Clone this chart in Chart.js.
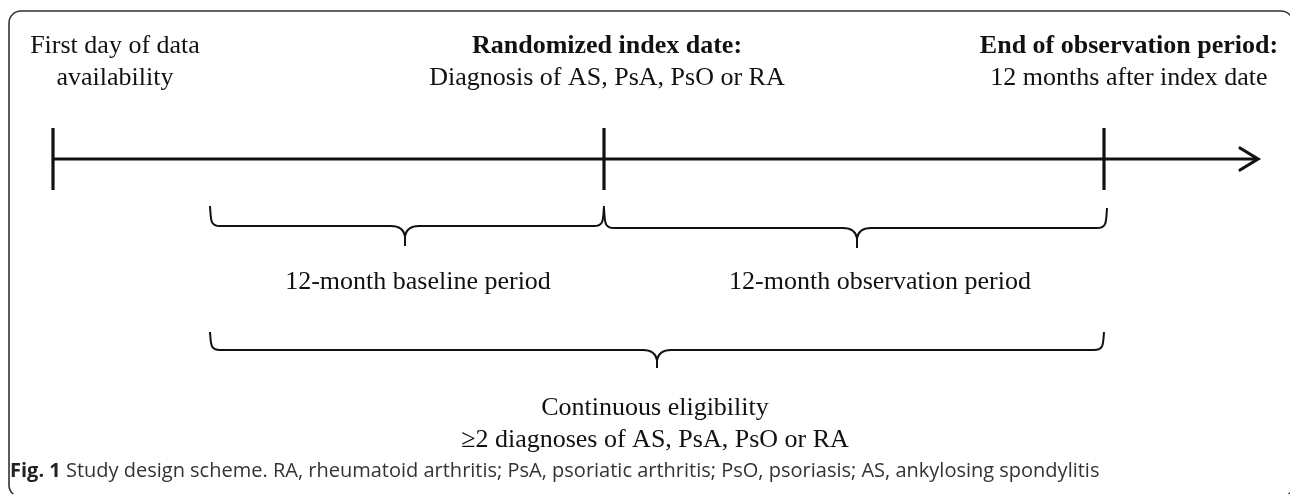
<!DOCTYPE html>
<html>
<head>
<meta charset="utf-8">
<script src="https://cdn.jsdelivr.net/npm/chart.js@4.4.1/dist/chart.umd.min.js"></script>
<style>
  html, body { margin: 0; padding: 0; background: #ffffff; }
  #wrap { width: 1290px; height: 494px; position: relative; }
</style>
</head>
<body>
<div id="wrap"><canvas id="c" width="1290" height="494"></canvas></div>
<script>
// ---- Data (diagram units on a 0..1290 x 0..494 frame) ----
const milestoneNames = ['First day of data availability', 'Randomized index date', 'End of observation period'];
const milestoneX = [53, 604, 1104];
const periodNames = ['12-month baseline period', '12-month observation period'];
const periodStart = [210, 604];
const periodEnd = [604, 1107];
const periodMid = [405, 857];
const eligibilityName = 'Continuous eligibility';
const eligibilityStart = 210;
const eligibilityEnd = 1104;
const eligibilityMid = 657;
const timelineStart = 53;
const timelineEnd = 1258;

const topLabels = [
  [{t: 'First day of data', b: false}, {t: 'availability', b: false}],
  [{t: 'Randomized index date:', b: true}, {t: 'Diagnosis of AS, PsA, PsO or RA', b: false}],
  [{t: 'End of observation period:', b: true}, {t: '12 months after index date', b: false}]
];
const periodLabels = ['12-month baseline period', '12-month observation period'];
const eligibilityLabels = ['Continuous eligibility', '\u22652 diagnoses of AS, PsA, PsO or RA'];
const captionBold = 'Fig. 1';
const captionText = ' Study design scheme. RA, rheumatoid arthritis; PsA, psoriatic arthritis; PsO, psoriasis; AS, ankylosing spondylitis';

// ---- Layout ----
const L = {
  lineY: 159, tickTop: 128, tickBottom: 190,
  arrowBack: 18, arrowHalf: 11,
  topLabelX: [115, 607, 1129], topBaseline: [53, 85],
  braceY: [226, 228], braceRise: 20, braceDrop: 20,
  eligBraceY: 350,
  periodLabelX: [418, 880], periodBaseline: 289,
  eligLabelX: 655, eligBaseline: [415, 447],
  captionX: 10, captionBaseline: 477
};
const INK = '#111111';
const SERIF = '"Liberation Serif", "Times New Roman", serif';

const datasets = [];
datasets.push({
  data: [{x: timelineStart, y: L.lineY}, {x: timelineEnd, y: L.lineY}],
  showLine: true, borderColor: INK, borderWidth: 3.2, pointRadius: 0, borderCapStyle: 'butt'
});
milestoneX.forEach((mx) => {
  datasets.push({
    data: [{x: mx, y: L.tickTop}, {x: mx, y: L.tickBottom}],
    showLine: true, borderColor: INK, borderWidth: 3.2, pointRadius: 0, borderCapStyle: 'butt'
  });
});
datasets.push({
  data: [
    {x: timelineEnd - L.arrowBack, y: L.lineY - L.arrowHalf},
    {x: timelineEnd, y: L.lineY},
    {x: timelineEnd - L.arrowBack, y: L.lineY + L.arrowHalf}
  ],
  showLine: true, borderColor: INK, borderWidth: 3.2, pointRadius: 0,
  borderCapStyle: 'round', borderJoinStyle: 'miter'
});

function brace(ctx, xs, x1, x2, yPix, rise, drop, midX) {
  const a = xs.getPixelForValue(x1), b = xs.getPixelForValue(x2);
  const m = xs.getPixelForValue(midX);
  ctx.beginPath();
  ctx.moveTo(a, yPix - rise);
  ctx.bezierCurveTo(a + 1, yPix - 6, a, yPix, a + 10, yPix);
  ctx.lineTo(m - 14, yPix);
  ctx.quadraticCurveTo(m - 2, yPix, m, yPix + 10);
  ctx.lineTo(m, yPix + drop);
  ctx.moveTo(m, yPix + 10);
  ctx.quadraticCurveTo(m + 2, yPix, m + 14, yPix);
  ctx.lineTo(b - 10, yPix);
  ctx.bezierCurveTo(b, yPix, b - 1, yPix - 6, b, yPix - rise);
  ctx.stroke();
}

const diagramPlugin = {
  id: 'diagram',
  beforeDraw(chart) {
    const ctx = chart.ctx;
    ctx.save();
    ctx.fillStyle = '#ffffff';
    ctx.fillRect(0, 0, chart.width, chart.height);
    // rounded frame (right and bottom edges fall just outside the picture)
    ctx.strokeStyle = '#333333';
    ctx.lineWidth = 1.6;
    ctx.beginPath();
    ctx.roundRect(9, 11, 1284, 486, 12);
    ctx.stroke();
    ctx.restore();
  },
  afterDatasetsDraw(chart) {
    const ctx = chart.ctx;
    const xs = chart.scales.x, ys = chart.scales.y;
    ctx.save();
    ctx.strokeStyle = INK;
    ctx.lineWidth = 2;
    ctx.lineCap = 'butt';
    ctx.lineJoin = 'round';
    for (let i = 0; i < periodStart.length; i++) {
      brace(ctx, xs, periodStart[i], periodEnd[i], ys.getPixelForValue(L.braceY[i]), L.braceRise, L.braceDrop, periodMid[i]);
    }
    brace(ctx, xs, eligibilityStart, eligibilityEnd, ys.getPixelForValue(L.eligBraceY), 18, 18, eligibilityMid);

    ctx.fillStyle = INK;
    ctx.textAlign = 'center';
    ctx.textBaseline = 'alphabetic';
    topLabels.forEach((lines, i) => {
      lines.forEach((ln, j) => {
        ctx.font = (ln.b ? 'bold ' : '') + '26px ' + SERIF;
        ctx.fillText(ln.t, xs.getPixelForValue(L.topLabelX[i]), ys.getPixelForValue(L.topBaseline[j]));
      });
    });
    ctx.font = '26px ' + SERIF;
    periodLabels.forEach((t, i) => {
      ctx.fillText(t, xs.getPixelForValue(L.periodLabelX[i]), ys.getPixelForValue(L.periodBaseline));
    });
    eligibilityLabels.forEach((t, i) => {
      ctx.fillText(t, xs.getPixelForValue(L.eligLabelX), ys.getPixelForValue(L.eligBaseline[i]));
    });
    // caption
    ctx.textAlign = 'left';
    ctx.font = 'bold 20px "Open Sans", sans-serif';
    ctx.fillStyle = '#222222';
    const cx = xs.getPixelForValue(L.captionX), cy = ys.getPixelForValue(L.captionBaseline);
    ctx.fillText(captionBold, cx, cy);
    const w = ctx.measureText(captionBold).width;
    ctx.font = '20px "Open Sans", sans-serif';
    ctx.fillStyle = '#333333';
    ctx.fillText(captionText, cx + w, cy);
    ctx.restore();
  }
};

new Chart(document.getElementById('c'), {
  type: 'scatter',
  data: { datasets },
  options: {
    responsive: false,
    animation: false,
    layout: { padding: 0 },
    plugins: { legend: { display: false }, tooltip: { enabled: false }, title: { display: false } },
    scales: {
      x: { type: 'linear', min: 0, max: 1290, display: false },
      y: { type: 'linear', min: 0, max: 494, reverse: true, display: false }
    },
    elements: { line: { tension: 0 } }
  },
  plugins: [diagramPlugin]
});
</script>
</body>
</html>
